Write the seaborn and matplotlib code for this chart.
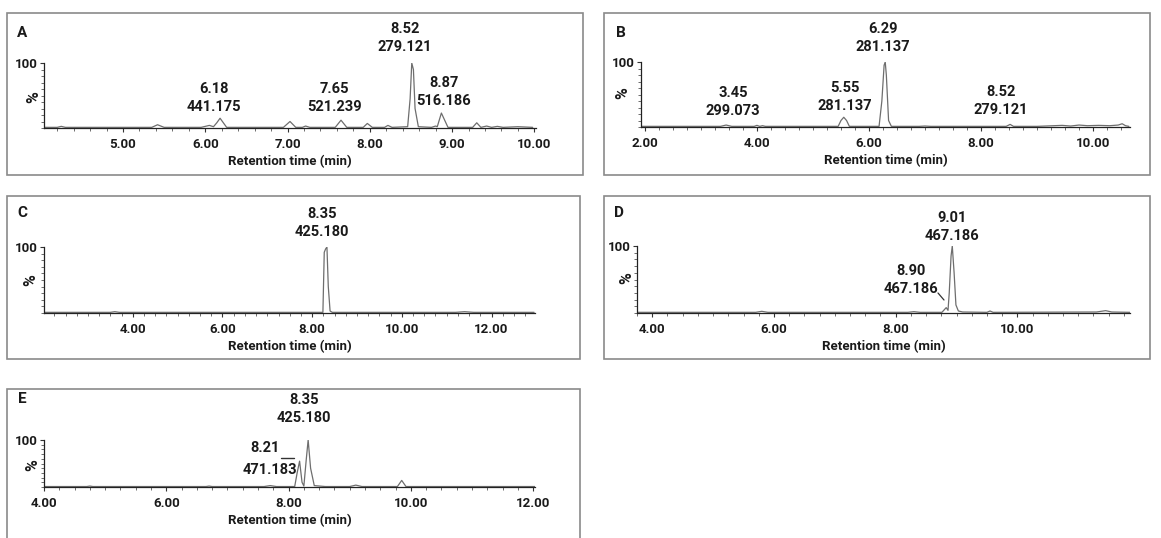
import matplotlib.pyplot as plt
import seaborn as sns
import pandas as pd
from matplotlib.patches import Rectangle
from matplotlib.lines import Line2D
from matplotlib.ticker import MultipleLocator, FixedLocator

# chromatogram traces : retention time (min) / relative intensity (%)
a_time = [4.05, 4.2, 4.25, 4.3, 5.35, 5.42, 5.5, 5.95, 6.05, 6.1, 6.14, 6.18, 6.26, 6.95, 7.03, 7.1, 7.18,
          7.22, 7.27, 7.58, 7.65, 7.72, 7.92, 7.97, 8.03, 8.18, 8.22, 8.27, 8.46, 8.49, 8.51, 8.53, 8.55, 8.59,
          8.75, 8.8, 8.82, 8.87, 8.95, 9.25, 9.3, 9.35, 9.42, 9.48, 9.55, 9.62, 9.8, 9.98]
a_int = [1, 1, 2.5, 1, 1, 5, 1, 1, 4, 2, 8, 15, 1, 1, 10, 1, 1,
         3, 1, 1, 12, 1, 1, 7, 1, 1, 4, 1, 2, 45, 100, 90, 30, 2,
         1, 3, 2, 23, 1, 1, 8, 1, 3, 1, 2.5, 1, 2, 1]

b_time = [1.94, 2.5, 3.0, 3.35, 3.45, 3.55, 3.95, 4.0, 4.05, 4.1, 4.15, 4.2, 5.45, 5.5, 5.55, 5.6, 5.65,
          6.18, 6.23, 6.27, 6.29, 6.31, 6.35, 6.4, 6.9, 7.0, 7.1, 8.45, 8.52, 8.58, 9.0, 9.3, 9.45, 9.6,
          9.75, 9.9, 10.1, 10.3, 10.45, 10.52, 10.58, 10.64]
b_int = [1, 1, 1, 1, 3, 1, 1, 2.5, 1, 2, 1, 1, 1, 10, 15, 10, 1,
         1, 40, 95, 100, 80, 10, 1, 1, 1.5, 1, 1, 4, 1, 1, 2, 2.5, 1.5,
         3, 2, 2.5, 2, 3, 5, 2, 1]

c_time = [2.03, 3.5, 3.6, 3.7, 7.7, 8.24, 8.27, 8.3, 8.33, 8.36, 8.4, 8.45, 11.2, 11.4, 11.6, 12.95]
c_int = [1, 1, 2, 1, 1, 1, 92, 97, 100, 40, 3, 1, 1, 2, 1, 1]

d_time = [3.76, 5.7, 5.8, 5.9, 8.2, 8.3, 8.4, 8.76, 8.8, 8.83, 8.86, 8.88, 8.91, 8.93, 8.96, 8.99, 9.03,
          9.1, 9.5, 9.55, 9.6, 11.3, 11.45, 11.55, 11.85]
d_int = [1, 1, 2.5, 1, 1, 2, 1, 1, 5, 8, 4, 30, 85, 100, 60, 12, 3,
         1.5, 1, 3, 1, 1.5, 3.5, 1.5, 1]

e_time = [4.0, 4.7, 4.75, 4.8, 6.65, 6.7, 6.75, 7.6, 7.7, 7.8, 8.1, 8.14, 8.18, 8.22, 8.25, 8.29, 8.32,
          8.36, 8.42, 8.6, 9.0, 9.1, 9.2, 9.78, 9.85, 9.92, 12.05]
e_int = [1, 1, 2, 1, 1, 2, 1, 1, 3, 1, 1, 30, 55, 10, 2, 60, 100,
         40, 3, 1, 1, 4, 1, 1, 14, 1, 1]

# peak labels : retention time / m/z
a_labels = ["8.52\n279.121", "6.18\n441.175", "7.65\n521.239", "8.87\n516.186"]
b_labels = ["6.29\n281.137", "3.45\n299.073", "5.55\n281.137", "8.52\n279.121"]
c_labels = ["8.35\n425.180"]
d_labels = ["9.01\n467.186", "8.90\n467.186"]
e_labels = ["8.35\n425.180", "8.21", "471.183"]

W, H = 1161, 538

sns.set_style("ticks")
plt.rcParams['font.family'] = ['Roboto', 'DejaVu Sans']
plt.rcParams['font.weight'] = 'bold'

fig = plt.figure(figsize=(W / 100, H / 100), dpi=100)


def fx(x):
    return x / W


def fy(y):
    return 1 - y / H


def ftext(x, y, s, size=10.5, **kw):
    fig.text(fx(x), fy(y), s, ha='center', va='center', fontsize=size,
             fontweight='bold', linespacing=1.3, color='#1a1a1a', **kw)


panels = [
    dict(letter="A", t=a_time, v=a_int, box=(7, 13, 583, 175), ax=(44, 63, 536, 128),
         xlim=(4.04, 10.02), major=1.0, minor=0.2, pct=(34, 97), let=(22, 33),
         labels=a_labels, lpos=[(405, 38), (214, 98), (334, 98), (444, 92)]),
    dict(letter="B", t=b_time, v=b_int, box=(604, 13, 1150, 175), ax=(641, 62, 1130, 127),
         xlim=(1.93, 10.66), major=2.0, minor=0.25, pct=(623, 93), let=(621, 33),
         labels=b_labels, lpos=[(883, 38), (733, 102), (845, 97), (1001, 101)]),
    dict(letter="C", t=c_time, v=c_int, box=(7, 196, 580, 359), ax=(44, 247, 535, 313),
         xlim=(2.02, 12.97), major=2.0, minor=0.25, pct=(31, 280), let=(22, 213),
         labels=c_labels, lpos=[(322, 223)]),
    dict(letter="D", t=d_time, v=d_int, box=(604, 196, 1150, 359), ax=(637, 246, 1130, 313),
         xlim=(3.75, 11.85), major=2.0, minor=0.25, pct=(627, 278), let=(619, 213),
         labels=d_labels, lpos=[(952, 227), (911, 280)]),
    dict(letter="E", t=e_time, v=e_int, box=(7, 389, 580, 560), ax=(44, 440, 535, 487),
         xlim=(4.0, 12.03), major=2.0, minor=0.25, pct=(33, 465), let=(22, 399),
         labels=e_labels, lpos=[(304, 409), (265, 448), (270, 470)]),
]

for p in panels:
    x0, y0, x1, y1 = p["box"]
    fig.add_artist(Rectangle((fx(x0), fy(y1)), (x1 - x0) / W, (y1 - y0) / H,
                             transform=fig.transFigure, fill=False,
                             edgecolor='#8a8a8a', lw=1.2))

    l, t, r, b = p["ax"]
    ax = fig.add_axes([fx(l), fy(b), (r - l) / W, (b - t) / H])
    df = pd.DataFrame({"time": p["t"], "intensity": p["v"]})
    sns.lineplot(data=df, x="time", y="intensity", ax=ax, color='#6e6e6e', lw=0.9)

    ax.set_xlim(*p["xlim"])
    ax.set_ylim(0, 100)
    ax.xaxis.set_major_locator(MultipleLocator(p["major"]))
    ax.xaxis.set_minor_locator(MultipleLocator(p["minor"]))
    ax.xaxis.set_major_formatter(lambda v, pos: f"{v:.2f}")
    ax.yaxis.set_major_locator(FixedLocator([100]))
    ax.yaxis.set_minor_locator(MultipleLocator(10))
    ax.set_yticklabels(["100"])
    ax.tick_params(axis='both', which='major', length=3, width=0.8, pad=1.5,
                   labelsize=9.5, color='#333333', labelcolor='#1a1a1a')
    ax.tick_params(axis='x', which='major', pad=4)
    ax.tick_params(axis='both', which='minor', length=2, width=0.6, color='#555555')
    for lab in ax.get_xticklabels() + ax.get_yticklabels():
        lab.set_fontweight('bold')
    for side in ["left", "bottom"]:
        ax.spines[side].set_color('#222222')
        ax.spines[side].set_linewidth(0.9)
    sns.despine(ax=ax)
    ax.set_xlabel("Retention time (min)", fontsize=9.5, fontweight='bold', labelpad=3,
                  color='#1a1a1a')
    ax.set_ylabel("")

    ftext(*p["pct"], "%", size=11.5, rotation=90)
    ftext(*p["let"], p["letter"], size=11)
    for s, (lx, ly) in zip(p["labels"], p["lpos"]):
        ftext(lx, ly, s)

# leader marks next to the small peaks in D and E
fig.add_artist(Line2D([fx(938), fx(944)], [fy(293), fy(300)], transform=fig.transFigure,
                      color='#333333', lw=0.9))
fig.add_artist(Line2D([fx(281), fx(294)], [fy(458), fy(458)], transform=fig.transFigure,
                      color='#333333', lw=1.0))

fig.savefig("out.png", dpi=100, facecolor='white')
